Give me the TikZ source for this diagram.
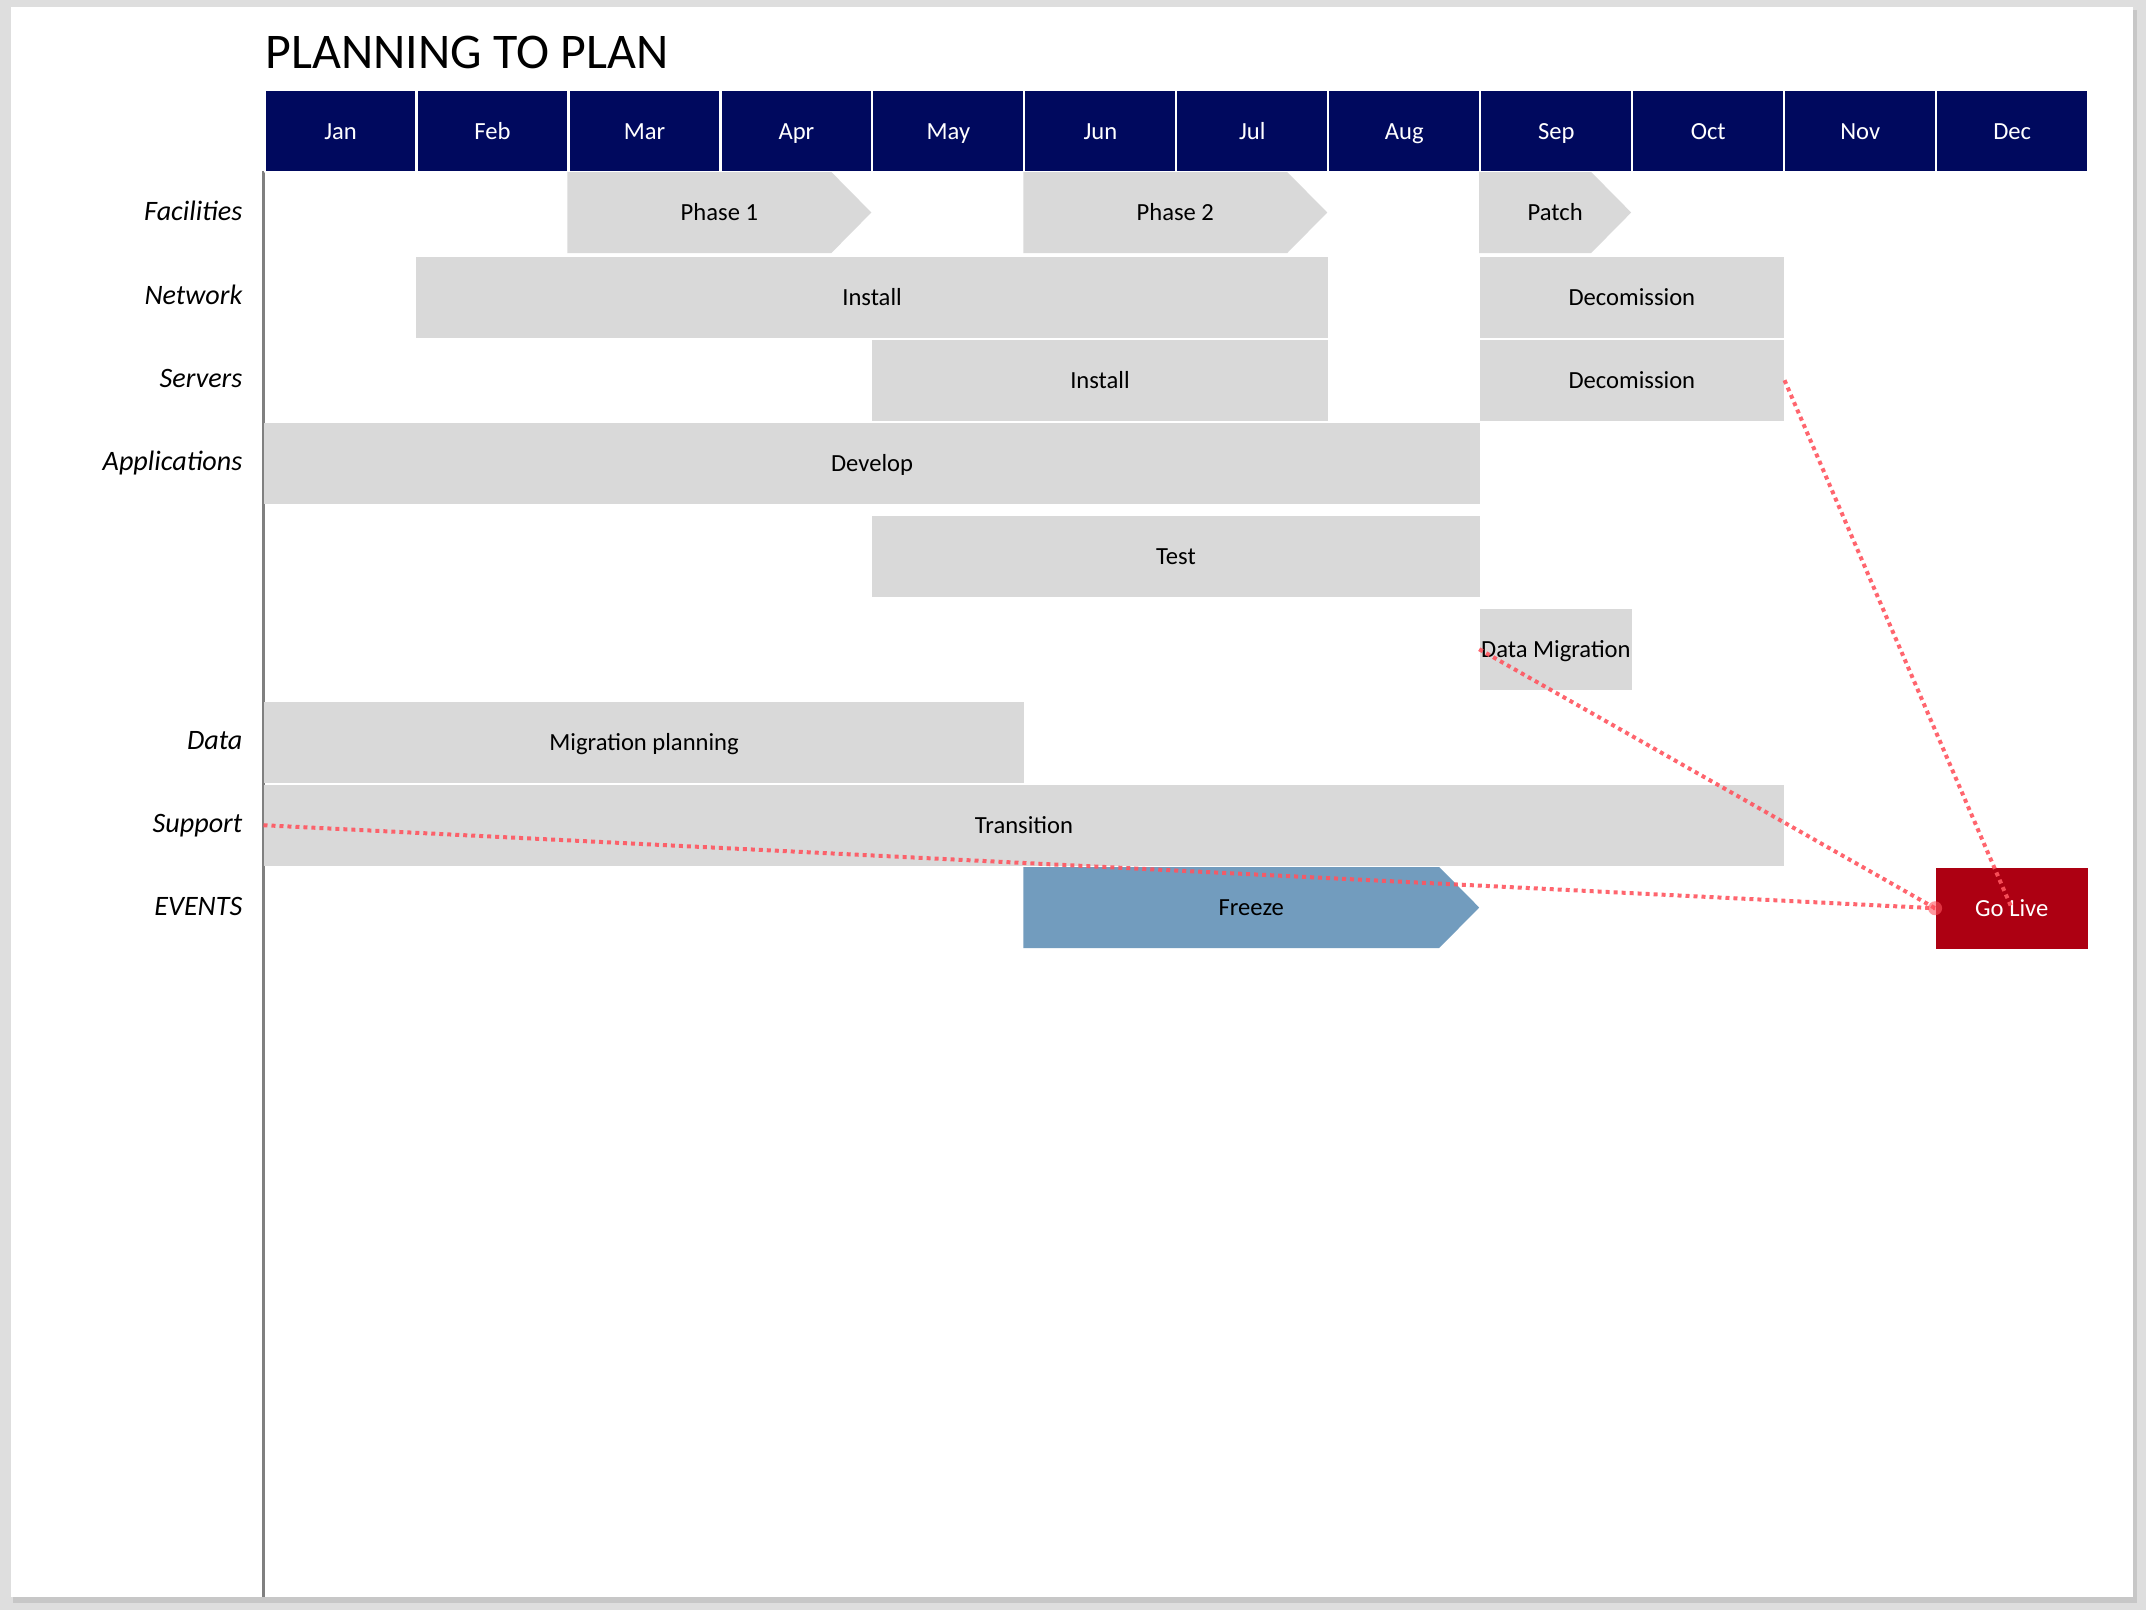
\documentclass[tikz,border=0pt]{standalone}
\usepackage{fontspec}
\setmainfont{Carlito}
\definecolor{navy}{RGB}{0,9,94}
\definecolor{barg}{RGB}{217,217,217}
\definecolor{frz}{RGB}{114,156,190}
\definecolor{liver}{RGB}{173,0,18}
\definecolor{linkred}{RGB}{255,85,95}
\definecolor{pageg}{RGB}{222,222,222}
% one grey task bar: name, first month, months, top, text
\newcommand\taskbar[5]{\node[bar, minimum width={#3*\cw cm}] (#1) at ({\xo+#2*\cw},#4) {#5};}
% one chevron: [fill] name, first month, tip month, top, text
\newcommand\chev[6][barg]{%
\fill[#1] ({\xo+#3*\cw},#5) -- ({\xo+#4*\cw-0.4},#5) -- ({\xo+#4*\cw},{#5+0.405})
  -- ({\xo+#4*\cw-0.4},{#5+0.81}) -- ({\xo+#3*\cw},{#5+0.81}) -- cycle;
\node[txt] (#2) at ({\xo+(#3+#4)*\cw/2},{#5+0.405}) {#6};}
\begin{document}
\begin{tikzpicture}[x=1cm, y=-1cm, line join=round,
  txt/.style={inner sep=0pt, text height=0.68em, text depth=0.2em, font=\fontsize{7}{8}\selectfont},
  bar/.style={txt, fill=barg, anchor=north west, minimum height=0.81cm},
  month/.style={txt, fill=navy, draw=white, line width=0.6pt, anchor=north west,
    minimum width=1.5196cm, minimum height=0.82cm, text=white},
  lbl/.style={inner sep=0pt, anchor=east, text height=0.68em, text depth=0.2em,
    font=\fontsize{8}{9}\selectfont\itshape},
  link/.style={draw=linkred, line width=0.04cm, dash pattern=on 0.04cm off 0.04cm, opacity=0.9}]
\def\xo{2.635} \def\cw{1.5196}
% page
\fill[pageg] (0,0) rectangle (21.46,16.10);
\fill[black!22] (0.13,0.10) rectangle (21.37,16.03);
\fill[white] (0.11,0.07) rectangle (21.33,15.97);
\draw[black!50, line width=0.6pt] (\xo,1.71) -- (\xo,15.97);
\node[inner sep=0pt, anchor=base west, font=\fontsize{14.2}{16}\selectfont] (title) at (2.65,0.68) {PLANNING TO PLAN};
% months
\foreach \m [count=\i from 0] in {Jan,Feb,Mar,Apr,May,Jun,Jul,Aug,Sep,Oct,Nov,Dec}
  \node[month] (m\i) at ({\xo+\i*\cw},0.89) {\m};
% rows
\node[lbl] (lfac) at (2.43,2.125) {Facilities};
\node[lbl] (lnet) at (2.43,2.965) {Network};
\node[lbl] (lsrv) at (2.43,3.795) {Servers};
\node[lbl] (lapp) at (2.43,4.625) {Applications};
\node[lbl] (ldat) at (2.43,7.415) {Data};
\node[lbl] (lsup) at (2.43,8.245) {Support};
\node[lbl] (levt) at (2.43,9.075) {EVENTS};
\chev{ph1}{2}{4}{1.72}{Phase 1}
\chev{ph2}{5}{7}{1.72}{Phase 2}
\chev{patch}{8}{9}{1.72}{Patch}
\taskbar{netinst}{1}{6}{2.56}{Install}
\taskbar{netdec}{8}{2}{2.56}{Decomission}
\taskbar{srvinst}{4}{3}{3.39}{Install}
\taskbar{srvdec}{8}{2}{3.39}{Decomission}
\taskbar{dev}{0}{8}{4.22}{Develop}
\taskbar{test}{4}{4}{5.15}{Test}
\taskbar{dmig}{8}{1}{6.08}{Data Migration}
\taskbar{migplan}{0}{5}{7.01}{Migration planning}
\taskbar{trans}{0}{10}{7.84}{Transition}
\chev[frz]{freeze}{5}{8}{8.67}{Freeze}
\node[bar, fill=liver, text=white, minimum width=\cw cm] (golive) at ({\xo+11*\cw},8.67) {Go Live};
% links to go live
\draw[link] (srvdec.east) -- (golive.center);
\draw[link] (dmig.west) -- (golive.west);
\draw[link] (trans.west) -- (golive.west);
\fill[linkred, opacity=0.6] (golive.west) circle (0.07);
\end{tikzpicture}
\end{document}
